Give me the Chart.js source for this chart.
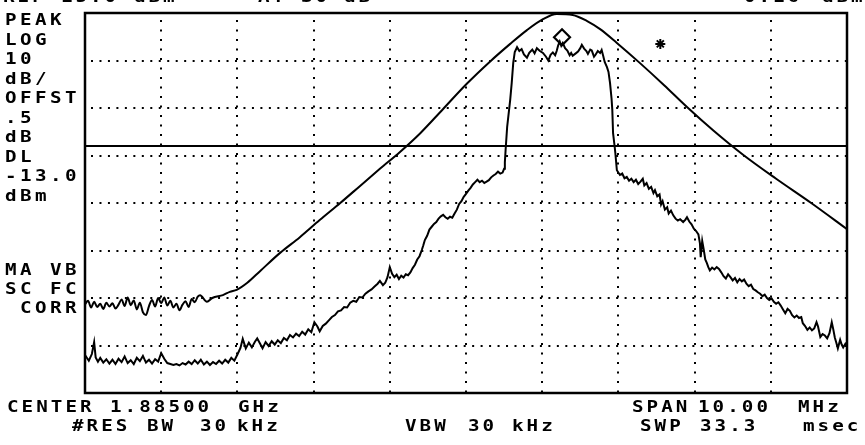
<!DOCTYPE html>
<html>
<head>
<meta charset="utf-8">
<script src="https://cdn.jsdelivr.net/npm/chart.js@4.4.1/dist/chart.umd.min.js"></script>
<style>
  html, body { margin: 0; padding: 0; background: #fff; }
  canvas { display: block; }
</style>
</head>
<body>
<canvas id="sa" width="865" height="445"></canvas>
<script>
// spectrum analyzer screen: center 1.885 GHz, span 10 MHz, ref 15 dBm, 10 dB/div
var spanMHz = [-5, 5];
var refLevel = 15;
var bottomLevel = -65;
var displayLine = -13.0;

// live trace (offset from center in MHz / level in dBm)
var sigFreq = [
  -5.00,-4.95,-4.91,-4.88,-4.86,-4.83,-4.80,-4.76,-4.72,-4.68,
  -4.64,-4.60,-4.56,-4.52,-4.48,-4.44,-4.40,-4.36,-4.32,-4.28,
  -4.24,-4.20,-4.16,-4.12,-4.08,-4.04,-4.00,-3.96,-3.92,-3.88,
  -3.84,-3.80,-3.76,-3.72,-3.68,-3.64,-3.60,-3.56,-3.52,-3.48,
  -3.44,-3.40,-3.36,-3.32,-3.28,-3.24,-3.20,-3.16,-3.12,-3.08,
  -3.04,-3.00,
  -2.96,-2.93,-2.89,-2.85,-2.81,-2.77,-2.74,-2.70,-2.67,-2.63,
  -2.59,-2.55,-2.51,-2.47,-2.43,-2.39,-2.35,-2.31,-2.27,-2.23,
  -2.19,-2.15,-2.11,-2.07,-2.03,-1.99,-1.95,-1.92,-1.88,-1.84,
  -1.80,-1.76,-1.72,-1.68,-1.64,-1.60,-1.56,-1.52,-1.48,-1.44,
  -1.40,-1.36,-1.32,-1.28,-1.24,-1.20,-1.16,
  -1.13,-1.09,-1.06,-1.03,-1.00,-0.97,-0.94,-0.91,-0.88,-0.85,
  -0.82,-0.79,-0.76,-0.73,-0.70,-0.67,-0.64,-0.61,-0.58,-0.56,
  -0.54,-0.51,-0.48,-0.45,-0.42,-0.39,-0.36,-0.33,-0.30,-0.27,
  -0.24,-0.21,-0.18,-0.15,-0.12,-0.09,-0.06,-0.03,0.00,0.03,
  0.06,0.09,0.12,0.15,0.18,0.21,0.24,0.27,0.30,0.33,
  0.36,0.39,0.42,0.45,0.48,0.50,0.51,0.52,0.54,0.58,
  0.60,0.62,
  0.64,0.67,0.70,0.73,0.76,0.80,0.83,0.87,0.90,0.93,
  0.97,1.01,1.05,1.08,1.11,1.14,1.17,1.19,1.21,1.23,
  1.25,1.27,1.30,1.33,1.36,1.38,1.40,1.44,1.47,1.50,
  1.52,1.55,1.58,1.60,1.63,1.65,1.68,1.70,1.73,1.76,
  1.78,1.80,1.82,1.85,1.87,1.89,1.91,1.92,1.93,1.95,
  1.96,1.98,
  2.02,2.05,2.08,2.11,2.14,2.17,2.20,2.23,2.26,2.29,
  2.32,2.34,2.37,2.40,2.43,2.46,2.48,2.51,2.54,2.56,
  2.58,2.61,2.64,2.66,2.69,2.72,2.75,2.78,2.81,2.85,
  2.88,2.90,2.93,2.96,2.99,3.02,3.05,3.07,3.08,3.10,
  3.12,3.14,3.16,3.18,3.20,3.23,3.26,3.29,3.32,3.35,
  3.38,3.41,3.44,3.47,3.50,3.53,3.56,3.59,3.62,3.65,
  3.68,3.71,3.74,3.77,3.80,3.83,3.86,3.89,3.92,3.95,
  3.98,4.01,4.04,4.07,4.10,4.13,4.16,4.19,4.22,4.25,
  4.28,4.31,4.34,4.37,4.40,4.42,4.45,4.48,4.51,4.54,
  4.57,4.60,4.62,4.65,4.68,4.71,4.74,4.77,4.80,4.82,
  4.84,4.86,4.88,4.91,4.93,4.95,4.98,5.00
];
var sigLevel = [
  -57.0,-58.2,-56.8,-54.3,-57.5,-58.4,-57.6,-58.6,-57.9,-58.8,
  -58.0,-58.9,-57.8,-58.5,-57.3,-58.7,-58.1,-58.9,-57.6,-58.3,
  -57.2,-58.6,-58.0,-58.8,-57.9,-58.4,-56.6,-57.8,-58.7,-58.9,
  -59.1,-58.9,-59.2,-58.7,-59.0,-58.4,-58.9,-58.1,-58.8,-58.0,
  -59.0,-58.4,-59.1,-58.5,-58.9,-58.2,-58.8,-58.0,-58.6,-57.6,
  -58.2,-56.9,
  -55.5,-53.6,-55.6,-54.4,-55.4,-54.2,-53.5,-54.7,-55.6,-54.3,
  -55.1,-54.1,-54.8,-53.9,-54.5,-53.4,-53.9,-52.8,-53.3,-52.5,
  -53.0,-52.1,-52.7,-51.6,-52.2,-50.1,-51.0,-52.0,-50.9,-50.4,
  -49.7,-49.0,-48.6,-47.8,-47.6,-46.9,-47.0,-46.0,-45.6,-45.8,
  -44.8,-44.9,-44.1,-43.6,-43.2,-42.6,-42.0,
  -41.4,-42.3,-41.8,-40.6,-38.5,-39.9,-40.6,-40.1,-41.0,-40.3,
  -40.7,-40.0,-40.2,-39.6,-38.7,-38.0,-36.9,-36.2,-34.9,-33.9,
  -32.8,-31.9,-30.6,-30.0,-29.4,-29.0,-28.3,-27.8,-27.5,-28.0,
  -28.3,-27.9,-28.1,-27.2,-26.4,-25.2,-24.6,-23.7,-23.1,-22.4,
  -21.8,-21.1,-20.6,-20.1,-20.6,-20.3,-20.8,-20.5,-20.2,-19.6,
  -19.2,-18.9,-18.4,-18.8,-18.6,-17.8,-16.4,-13.8,-9.0,-3.3,
  0.3,4.5,
  6.8,7.8,7.0,7.4,6.3,5.6,6.6,7.3,6.5,7.6,
  7.0,6.6,5.8,5.0,6.2,6.7,6.1,7.0,8.2,9.0,
  8.1,8.7,7.6,7.1,6.1,6.6,6.0,6.5,6.9,7.6,
  8.3,7.5,7.0,6.4,7.3,7.1,5.8,6.2,7.0,6.6,
  7.2,6.0,4.7,3.6,2.6,0.3,-3.0,-5.4,-10.3,-13.0,
  -14.5,-18.1,
  -19.1,-18.8,-19.8,-19.5,-20.3,-19.9,-20.6,-20.1,-21.0,-20.5,
  -19.9,-21.3,-20.8,-22.0,-21.6,-22.9,-22.3,-23.6,-23.2,-25.3,
  -24.6,-26.4,-25.9,-27.2,-26.6,-27.6,-28.3,-28.7,-28.4,-29.0,
  -28.5,-28.0,-28.9,-29.5,-30.4,-30.9,-31.6,-33.5,-36.4,-33.0,
  -34.8,-36.9,-37.6,-38.5,-39.2,-38.6,-39.0,-38.5,-38.9,-39.6,
  -40.4,-40.9,-40.0,-40.6,-41.3,-40.8,-41.7,-41.0,-41.5,-41.1,
  -42.0,-42.5,-42.2,-43.1,-43.4,-43.8,-44.1,-44.6,-44.3,-45.0,
  -45.4,-45.1,-45.8,-46.2,-45.9,-46.6,-47.4,-48.2,-47.3,-47.7,
  -48.6,-49.1,-48.7,-49.2,-49.0,-50.3,-50.9,-51.7,-51.2,-51.8,
  -51.4,-50.1,-51.0,-53.2,-52.6,-52.9,-53.5,-52.4,-50.1,-51.6,
  -53.3,-54.4,-55.6,-53.8,-54.8,-55.4,-54.6,-54.9
];

// smooth upper trace
var holdFreq = [
  -5.00,-4.96,-4.92,-4.88,-4.84,-4.80,-4.76,-4.72,-4.68,-4.64,
  -4.60,-4.56,-4.52,-4.48,-4.44,-4.40,-4.36,-4.32,-4.28,-4.24,
  -4.20,-4.16,-4.12,-4.08,-4.04,-4.00,-3.96,-3.92,-3.88,-3.84,
  -3.80,-3.76,-3.72,-3.68,-3.64,-3.60,-3.56,-3.52,
  -3.49,-3.40,-3.33,-3.19,-3.10,-3.01,-2.87,
  -2.70,-2.44,-2.18,-1.92,-1.65,-1.39,-1.13,-0.87,-0.60,-0.30,
  0.01,0.31,0.58,0.80,1.01,1.19,1.40,1.59,1.76,1.98,
  2.28,2.60,2.90,3.25,3.64,4.07,4.53,5.00
];
var holdLevel = [
  -46.3,-45.6,-47.0,-45.8,-46.9,-46.2,-47.3,-46.0,-46.8,-46.1,
  -47.2,-46.4,-45.3,-46.7,-44.9,-46.5,-45.5,-47.4,-46.0,-48.0,
  -48.6,-46.7,-45.4,-46.8,-45.0,-46.1,-44.9,-46.6,-45.6,-47.0,
  -46.2,-47.6,-46.4,-45.7,-46.9,-45.2,-45.9,-44.7,
  -44.4,-45.8,-45.0,-44.4,-43.7,-43.3,-41.8,
  -39.3,-35.5,-32.2,-28.6,-25.0,-21.4,-17.8,-14.3,-10.3,-5.2,
  0.1,4.7,8.5,11.4,13.7,14.8,14.6,13.3,11.6,8.7,
  4.5,-0.2,-4.8,-9.8,-14.9,-19.9,-25.0,-30.5
];

var markerPos = [1.26, 9.9];   // diamond marker
var refMarkerPos = [2.55, 8.5]; // asterisk

var topText = [['REF', 3, 2], ['15.0', 61, 2], ['dBm', 134, 2], ['AT', 258, 2], ['30', 301, 2], ['dB', 344, 2], ['0.16', 744, 2], ['dBm', 822, 2]];
var leftText = [['PEAK', 25], ['LOG', 44.5], ['10', 64], ['dB/', 83.5], ['OFFST', 103], ['.5', 122.5], ['dB', 142],
  ['DL', 161.5], ['-13.0', 181], ['dBm', 200.5], ['MA VB', 275], ['SC FC', 294], [' CORR', 313]];
var bottomText = [['CENTER', 7, 412], ['1.88500', 110, 412], ['GHz', 238, 412],
  ['#RES', 72, 431], ['BW', 147, 431], ['30', 200, 431], ['kHz', 237, 431],
  ['VBW', 405, 431], ['30', 468, 431], ['kHz', 512, 431],
  ['SPAN', 632, 412], ['10.00', 698, 412], ['MHz', 798, 412],
  ['SWP', 640, 431], ['33.3', 700, 431], ['msec', 803, 431]];

function pairs(xs, ys) {
  var out = [];
  for (var i = 0; i < xs.length; i++) out.push({x: xs[i], y: ys[i]});
  return out;
}

function drawMono(ctx, str, x, y, pitch) {
  for (var i = 0; i < str.length; i++) {
    ctx.save();
    ctx.translate(x + i * pitch, y);
    ctx.scale(1.2, 1);
    ctx.fillText(str[i], 0, 0);
    ctx.restore();
  }
}

var screenText = {
  id: 'screenText',
  afterDraw: function(chart) {
    var ctx = chart.ctx;
    var a = chart.chartArea;
    ctx.save();
    // frame
    ctx.strokeStyle = '#000';
    ctx.lineWidth = 2.5;
    ctx.strokeRect(a.left, a.top, a.right - a.left, a.bottom - a.top);
    ctx.fillStyle = '#000';
    ctx.font = 'bold 16px "DejaVu Sans Mono"';
    ctx.textBaseline = 'alphabetic';
    topText.forEach(function(t) { drawMono(ctx, t[0], t[1], t[2], 14.5); });
    leftText.forEach(function(t) { drawMono(ctx, t[0], 5, t[1], 15); });
    bottomText.forEach(function(t) { drawMono(ctx, t[0], t[1], t[2], 14.6); });
    ctx.restore();
  }
};

var ctx = document.getElementById('sa').getContext('2d');
var chart = new Chart(ctx, {
  type: 'line',
  data: {
    datasets: [
      {
        data: pairs(sigFreq, sigLevel),
        borderColor: '#000', borderWidth: 2, pointRadius: 0, tension: 0
      },
      {
        data: pairs(holdFreq, holdLevel),
        borderColor: '#000', borderWidth: 2, pointRadius: 0,
        cubicInterpolationMode: 'monotone'
      },
      {
        data: [{x: spanMHz[0], y: displayLine}, {x: spanMHz[1], y: displayLine}],
        borderColor: '#000', borderWidth: 2, pointRadius: 0
      },
      {
        data: [{x: markerPos[0], y: markerPos[1]}],
        showLine: false, pointStyle: 'rectRot', pointRadius: 8,
        borderColor: '#000', borderWidth: 2.2, backgroundColor: '#fff'
      },
      {
        data: [{x: refMarkerPos[0], y: refMarkerPos[1]}],
        showLine: false, pointStyle: 'star', pointRadius: 5,
        borderColor: '#000', borderWidth: 2, backgroundColor: '#000'
      }
    ]
  },
  options: {
    responsive: false,
    animation: false,
    devicePixelRatio: 1,
    layout: { padding: { left: 85, top: 13, right: 18, bottom: 52 } },
    plugins: { legend: { display: false }, tooltip: { enabled: false } },
    scales: {
      x: {
        type: 'linear', min: spanMHz[0], max: spanMHz[1],
        ticks: { display: false, stepSize: 1 },
        border: { display: false, dash: [2, 7.5], dashOffset: -7 },
        grid: { color: '#000', lineWidth: 2, drawTicks: false }
      },
      y: {
        min: bottomLevel, max: refLevel,
        ticks: { display: false, stepSize: 10 },
        border: { display: false, dash: [2, 6.47], dashOffset: -6 },
        grid: { color: '#000', lineWidth: 2, drawTicks: false }
      }
    }
  },
  plugins: [screenText]
});
</script>
</body>
</html>
